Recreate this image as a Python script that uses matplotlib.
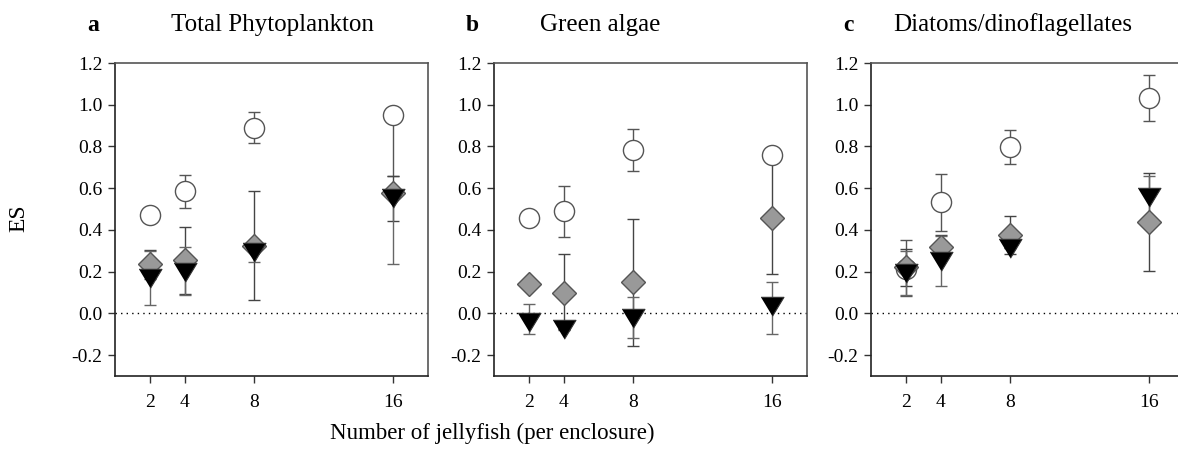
import matplotlib.pyplot as plt

plt.rcParams['font.family'] = 'Liberation Serif'
plt.rcParams['axes.unicode_minus'] = False

jelly = [2, 4, 8, 16]

# effect sizes with lower / upper error lengths (open circles, grey diamonds, black triangles)
a_circ = [0.47, 0.585, 0.89, 0.95]
a_circ_lo = [0, 0.08, 0.075, 0.29]
a_circ_hi = [0, 0.08, 0.075, 0]
a_diam = [0.235, 0.255, 0.325, 0.575]
a_diam_lo = [0.07, 0.16, 0.26, 0.13]
a_diam_hi = [0.07, 0.16, 0.26, 0.085]
a_tri = [0.168, 0.2, 0.295, 0.555]
a_tri_lo = [0.13, 0.11, 0.05, 0.32]
a_tri_hi = [0.13, 0.12, 0.05, 0]

b_circ = [0.458, 0.49, 0.782, 0.758]
b_circ_lo = [0, 0.125, 0.1, 0]
b_circ_hi = [0, 0.12, 0.1, 0]
b_diam = [0.143, 0.099, 0.149, 0.458]
b_diam_lo = [0, 0.18, 0.305, 0.27]
b_diam_hi = [0, 0.184, 0.304, 0.27]
b_tri = [-0.042, -0.073, -0.02, 0.035]
b_tri_lo = [0.058, 0, 0.1, 0.133]
b_tri_hi = [0.087, 0, 0.1, 0.115]

c_circ = [0.215, 0.534, 0.798, 1.034]
c_circ_lo = [0.13, 0.14, 0.08, 0.112]
c_circ_hi = [0.135, 0.133, 0.081, 0.109]
c_diam = [0.22, 0.318, 0.374, 0.438]
c_diam_lo = [0.09, 0.055, 0.09, 0.235]
c_diam_hi = [0.09, 0.056, 0.093, 0.235]
c_tri = [0.195, 0.25, 0.315, 0.558]
c_tri_lo = [0.105, 0.12, 0, 0.1]
c_tri_hi = [0.105, 0.12, 0, 0.1]

letters = ["a", "b", "c"]
titles = ["Total Phytoplankton", "Green algae", "Diatoms/dinoflagellates"]
yticks = [-0.2, 0.0, 0.2, 0.4, 0.6, 0.8, 1.0, 1.2]

panels = [
    [(a_circ, a_circ_lo, a_circ_hi), (a_diam, a_diam_lo, a_diam_hi), (a_tri, a_tri_lo, a_tri_hi)],
    [(b_circ, b_circ_lo, b_circ_hi), (b_diam, b_diam_lo, b_diam_hi), (b_tri, b_tri_lo, b_tri_hi)],
    [(c_circ, c_circ_lo, c_circ_hi), (c_diam, c_diam_lo, c_diam_hi), (c_tri, c_tri_lo, c_tri_hi)],
]

W, H = 1178, 450
fig = plt.figure(figsize=(W / 100, H / 100), dpi=100)

lefts = [115, 494, 871]
widths = [313, 313, 322]   # last frame runs past the right edge
xmax = [18, 18, 18.5]
letter_x = [87, 466, 843]
title_x = [171, 540, 893]

styles = [
    dict(marker='o', ms=14.5, mfc='white', mec='#555555', mew=1.0),
    dict(marker='D', ms=12.5, mfc='#999999', mec='#555555', mew=1.0),
    dict(marker=[(-1, 0.8), (1, 0.8), (0, -0.85)], ms=16.5, mfc='black', mec='#333333', mew=0.8),
]
bar_cols = ['#555555', '#444444', '#666666']

for i in range(3):
    ax = fig.add_axes([lefts[i] / W, 74 / H, widths[i] / W, 313 / H])
    ax.axhline(0, color='black', ls=(0, (1, 3)), lw=1.0, zorder=1)
    # error bars sit behind every marker
    for (vals, lo, hi), col in zip(panels[i], bar_cols):
        ax.errorbar(jelly, vals, yerr=[lo, hi], fmt='none', ecolor=col,
                    elinewidth=1.0, capsize=4.5, capthick=1.0, zorder=2)
    for (vals, lo, hi), st in zip(panels[i], styles):
        ax.plot(jelly, vals, ls='none', zorder=3, **st)

    ax.set_xlim(0, xmax[i])
    ax.set_ylim(-0.3, 1.2)
    ax.set_xticks(jelly)
    ax.set_yticks(yticks)
    ax.set_yticklabels(["%.1f" % v for v in yticks])
    ax.tick_params(direction='out', length=5, width=1, labelsize=14, color='#333333')
    ax.tick_params(axis='x', pad=8)
    ax.tick_params(axis='y', pad=4)
    for side in ['left', 'bottom']:
        ax.spines[side].set_color('#222222')
        ax.spines[side].set_linewidth(1.2)
    for side in ['top', 'right']:
        ax.spines[side].set_color('#555555')
        ax.spines[side].set_linewidth(1.2)

    fig.text(letter_x[i] / W, 1 - 31 / H, letters[i], fontsize=17, fontweight='bold',
             va='baseline', ha='left')
    fig.text(title_x[i] / W, 1 - 31 / H, titles[i], fontsize=18, va='baseline', ha='left')

fig.text(19 / W, 1 - 218 / H, "ES", fontsize=17, rotation=90, ha='center', va='center')
fig.text(492 / W, 1 - 433 / H, "Number of jellyfish (per enclosure)", fontsize=16.5,
         ha='center', va='center')

fig.savefig("out.png", dpi=100)
